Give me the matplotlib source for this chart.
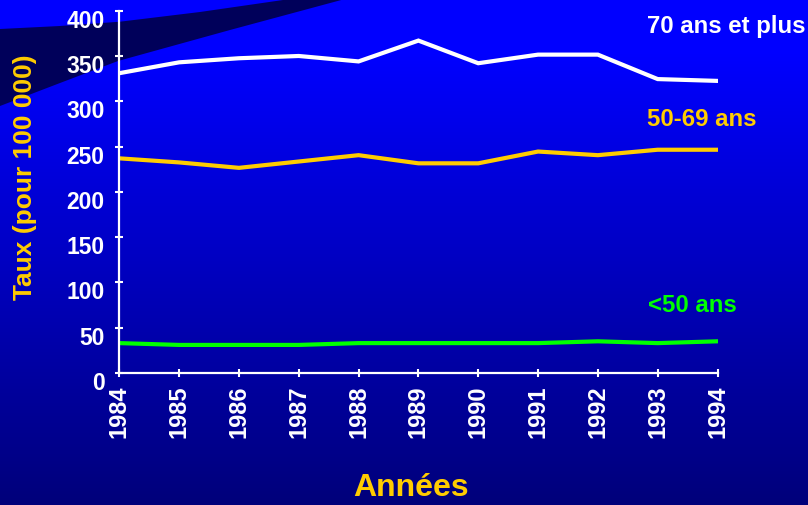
import numpy as np
import matplotlib
matplotlib.use("Agg")
import matplotlib.pyplot as plt
from matplotlib.patches import Polygon
from matplotlib.transforms import ScaledTranslation

plt.rcParams['font.family'] = ['Liberation Sans', 'DejaVu Sans']
plt.rcParams['font.weight'] = 'bold'

years = [1984, 1985, 1986, 1987, 1988, 1989, 1990, 1991, 1992, 1993, 1994]
over70 = [331, 343, 347.5, 350, 344, 367, 342, 351.5, 351.5, 324.5, 322.5]
age50_69 = [237, 232.5, 226.5, 233.5, 240.5, 231.5, 231.5, 244.5, 240.5, 246.5, 246.5]
under50 = [33, 31, 31, 31, 33, 33, 33, 33, 35, 33, 35]
yticks = [0, 50, 100, 150, 200, 250, 300, 350, 400]
series_labels = ["70 ans et plus", "50-69 ans", "<50 ans"]

W, H = 808, 506
GOLD = '#FFCC00'
GREEN = '#00FF00'

fig = plt.figure(figsize=(W / 100, H / 100), dpi=100)

# background gradient
bg = fig.add_axes([0, 0, 1, 1])
yy = np.arange(H)
blue = np.clip(271 - 0.295 * yy, 0, 255) / 255.0
img = np.zeros((H, 1, 3))
img[:, 0, 2] = blue
bg.imshow(img, aspect='auto', extent=[0, W, H, 0])
poly = [(0, 30), (60, 27), (120, 22.7), (200, 13), (290, 0), (345, 0),
        (230, 31), (118, 62), (60, 84), (0, 107)]
bg.add_patch(Polygon(poly, closed=True, facecolor='#00005A', edgecolor='none'))
bg.set_xlim(0, W)
bg.set_ylim(H, 0)
bg.axis('off')

# main axes
x0, x1 = 119.3, 717.5
y0, y1 = 374, 11.7
ax = fig.add_axes([x0 / W, (H - y0) / H, (x1 - x0) / W, (y0 - y1) / H])
ax.set_facecolor('none')
ax.plot(years, over70, color='white', lw=3, solid_joinstyle='miter')
ax.plot(years, age50_69, color=GOLD, lw=3, solid_joinstyle='miter')
ax.plot(years, under50, color=GREEN, lw=3, solid_joinstyle='miter')
ax.set_xlim(1984, 1994)
ax.set_ylim(0, 400)
ax.set_xticks(years)
ax.set_xticklabels([str(y) for y in years], rotation=90)
ax.set_yticks(yticks)
for s in ['top', 'right']:
    ax.spines[s].set_visible(False)
for s in ['left', 'bottom']:
    ax.spines[s].set_color('white')
    ax.spines[s].set_linewidth(1.6)
ax.tick_params(direction='inout', length=6, width=1.5, colors='white',
               labelsize=16.5)
ax.tick_params(axis='y', pad=7.5)
ax.tick_params(axis='x', pad=5, labelsize=17)
for t in ax.get_xticklabels() + ax.get_yticklabels():
    t.set_fontweight('bold')
off = ScaledTranslation(0, -0.07, fig.dpi_scale_trans)
for t in ax.yaxis.get_major_ticks():
    t.label1.set_transform(t.label1.get_transform() + off)

fig.text(25 / W, 1 - 177 / H, "Taux (pour 100 000)", rotation=90, color=GOLD,
         fontsize=19, fontweight='bold', ha='center', va='center')
fig.text(411 / W, 1 - 488 / H, "Années", color=GOLD, fontsize=23,
         fontweight='bold', ha='center', va='center')

fig.text(647 / W, 1 - 27 / H, series_labels[0], color='white', fontsize=17.3,
         fontweight='bold', ha='left', va='center')
fig.text(647 / W, 1 - 119 / H, series_labels[1], color=GOLD, fontsize=17.3,
         fontweight='bold', ha='left', va='center')
fig.text(648 / W, 1 - 306 / H, series_labels[2], color=GREEN, fontsize=17.3,
         fontweight='bold', ha='left', va='center')

fig.savefig("out.png", dpi=100)
